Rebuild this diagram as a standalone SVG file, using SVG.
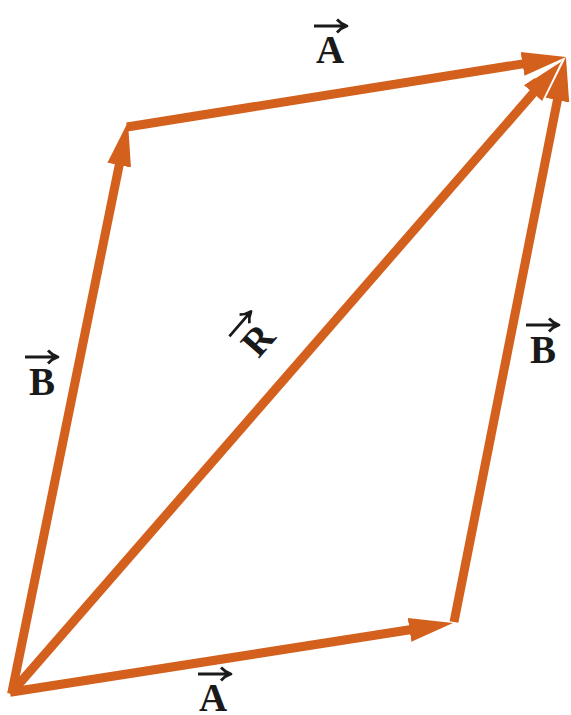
<svg xmlns="http://www.w3.org/2000/svg" xmlns:xlink="http://www.w3.org/1999/xlink" width="571" height="715" viewBox="0 0 571 715">
<style>
.vec{stroke:#D4601E;stroke-width:9;fill:none;stroke-linecap:butt}
.lbl{font-family:"Liberation Serif","Times New Roman",serif;font-weight:bold;font-size:39px;fill:#1a1a1a;text-anchor:middle}
.ov{stroke:#1a1a1a;stroke-width:2.8;fill:none;stroke-linecap:butt;stroke-linejoin:round}
</style>
<defs>
<marker id="head" markerUnits="userSpaceOnUse" markerWidth="50" markerHeight="30" viewBox="0 -15 50 30" refX="2" refY="0" orient="auto">
<path d="M0,-12 L44,0 L0,12 Z" fill="#D4601E"/>
</marker>
<path id="over" class="ov" d="M-16,0 H15 M7,-6.5 Q11,-2 17,0 Q11,2 7,6.5"/>
</defs>
<rect width="571" height="715" fill="#ffffff"/>
<g id="connectors">
<path id="A-bottom" class="vec" d="M10,692.3 L411.5,629.5" marker-end="url(#head)"/>
<path id="B-left" class="vec" d="M11.6,694 L119.6,163.2" marker-end="url(#head)"/>
<path id="A-top" class="vec" d="M127,127 L524.5,63.6" marker-end="url(#head)"/>
<path id="B-right" class="vec" d="M454,622 L557.8,98.2" marker-end="url(#head)"/>
<path id="R" class="vec" d="M12,692 L534.4,91.7" marker-end="url(#head)"/>
<path d="M534.8,77.7 L561,60.7" stroke="#ffffff" stroke-width="2"/>
</g>
<g id="label-A-top">
<use xlink:href="#over" href="#over" x="330" y="26"/>
<text class="lbl" x="330" y="63">A</text>
</g>
<g id="label-B-left">
<use xlink:href="#over" href="#over" x="41" y="357"/>
<text class="lbl" x="42" y="395">B</text>
</g>
<g id="label-B-right">
<use xlink:href="#over" href="#over" x="542" y="325"/>
<text class="lbl" x="543" y="363">B</text>
</g>
<g id="label-A-bottom">
<use xlink:href="#over" href="#over" x="214" y="674"/>
<text class="lbl" x="213" y="711">A</text>
</g>
<g id="label-R" transform="translate(258,340) rotate(-49)">
<use xlink:href="#over" href="#over" x="0" y="-24"/>
<text class="lbl" x="0" y="13">R</text>
</g>
</svg>
